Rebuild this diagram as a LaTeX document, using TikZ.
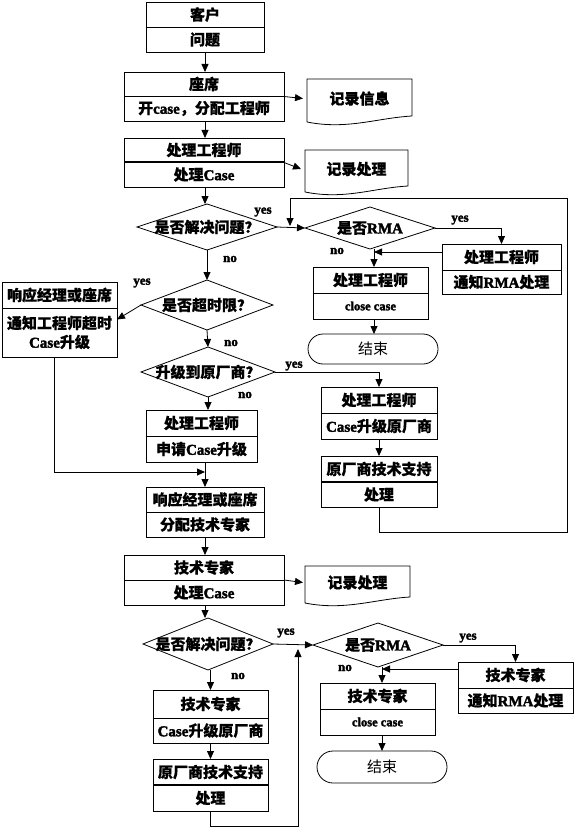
\documentclass[tikz,border=0pt]{standalone}
\usepackage{fontspec}
\setmainfont{Noto Sans CJK SC}[BoldFeatures={FakeBold=0.6}]
\newfontfamily\en{Liberation Serif}[BoldFeatures={FakeBold=2.2}]
\usetikzlibrary{arrows.meta,shapes.geometric,shapes.misc}
\newcommand\E[1]{{\en\bfseries #1}}
% #1 divider style, #2 name, #3 xl, #4 xr, #5 yt, #6 yb, #7 ydiv, #8 top text, #9 bottom text
\newcommand\tbox[9][ln]{%
  \node[boxst, minimum width={#4-#3}, minimum height={#6-#5}] (#2) at ({(#3+#4)/2},{(#5+#6)/2}) {};
  \draw[#1] (#3,#7) -- (#4,#7);
  \node[txt] (#2-t) at ({(#3+#4)/2},{(#5+#7)/2}) {#8};
  \node[txt] (#2-b) at ({(#3+#4)/2},{(#7+#6)/2}) {#9};
}
% #1 name, #2 xl, #3 xr, #4 yt, #5 yb, #6 text
\newcommand\docbox[6]{%
  \node[docst, minimum width={#3-#2}, minimum height={#5-#4}] (#1) at ({(#2+#3)/2},{(#4+#5)/2-2}) {#6};
  \draw[ln] (#2,#5) -- (#2,#4) -- (#3,#4) -- (#3,#5-6) .. controls (#3-35,#5-4) and (#2+40,#5+8) .. (#2,#5);
}
\begin{document}
\begin{tikzpicture}[x=1pt,y=-1pt,
  ln/.style={line width=0.8pt},
  thk/.style={line width=1.8pt},
  boxst/.style={draw, line width=0.8pt, inner sep=0pt, outer sep=0pt},
  docst/.style={inner sep=0pt, outer sep=0pt, font=\bfseries\fontsize{15}{17}\selectfont},
  txt/.style={inner sep=0pt, align=center, font=\bfseries\fontsize{15}{19}\selectfont},
  dia/.style={draw, diamond, line width=0.8pt, inner sep=0pt, outer sep=0pt},
  endst/.style={draw, rounded rectangle, line width=0.8pt, inner sep=0pt, outer sep=0pt, font=\fontsize{15}{17}\selectfont},
  lab/.style={inner sep=0pt, font=\en\bfseries\fontsize{13}{13}\selectfont},
  sm/.style={font=\en\bfseries\fontsize{12.5}{12.5}\selectfont},
  arr/.style={line width=0.8pt, -{Triangle[length=8pt,width=7pt]}}]
\useasboundingbox (0,0) rectangle (576,829);

% ---------- top part ----------
\tbox{b1}{146}{264}{2}{52}{27}{客户}{问题}
\tbox{b2}{124}{284}{72}{121}{96}{座席}{开\E{case}，分配工程师}
\tbox[thk]{b3}{124}{284}{138}{187}{162}{处理工程师}{处理\E{Case}}
\docbox{info}{307}{412}{79}{122}{记录信息}
\docbox{rec1}{305}{408}{150}{192}{记录处理}

\node[dia, minimum width=140, minimum height=46] (d1) at (207,227) {};
\node[txt] (d1t) at (d1) {是否解决问题？};
\node[dia, minimum width=130, minimum height=42] (d2) at (370,228) {};
\node[txt] (d2t) at (d2) {是否\E{RMA}};
\tbox{rma1}{442}{561}{244}{294}{270}{处理工程师}{通知\E{RMA}处理}
\tbox{close1}{313}{428}{267}{319}{293}{处理工程师}{\textbf{\en\fontsize{12.5}{12.5}\selectfont close case}}
\node[endst, minimum width=130, minimum height=30] (end1) at (373,349) {结束};

\node[dia, minimum width=132, minimum height=50] (d3) at (207,305) {};
\node[txt] (d3t) at (d3) {是否超时限？};
\tbox{left}{2}{117}{282}{357}{308}{响应经理或座席}{通知工程师超时\\\E{Case}升级}
\node[dia, minimum width=134, minimum height=50] (d4) at (208,372) {};
\node[txt] (d4t) at (d4) {升级到原厂商？};
\tbox{apply}{146}{257}{410}{462}{436}{处理工程师}{申请\E{Case}升级}
\tbox{v1}{321}{437}{387}{439}{413}{处理工程师}{\E{Case}升级原厂商}
\tbox[thk]{v2}{321}{437}{456}{507}{482}{原厂商技术支持}{处理}
\tbox{mgr}{146}{264}{487}{537}{512}{响应经理或座席}{分配技术专家}
\tbox{exp}{124}{284}{555}{605}{580}{技术专家}{处理\E{Case}}
\docbox{rec2}{305}{410}{566}{603}{记录处理}

% ---------- bottom part ----------
\node[dia, minimum width=130, minimum height=52] (d5) at (208,644) {};
\node[txt] (d5t) at (d5) {是否解决问题？};
\node[dia, minimum width=130, minimum height=44] (d6) at (378,645) {};
\node[txt] (d6t) at (d6) {是否\E{RMA}};
\tbox{rma2}{458}{573}{662}{713}{688}{技术专家}{通知\E{RMA}处理}
\tbox{close2}{320}{435}{683}{735}{709}{技术专家}{\textbf{\en\fontsize{12.5}{12.5}\selectfont close case}}
\node[endst, minimum width=130, minimum height=32] (end2) at (382,767) {结束};
\tbox{exp2}{153}{268}{690}{743}{718}{技术专家}{\E{Case}升级原厂商}
\tbox[thk]{v3}{153}{268}{759}{811}{785}{原厂商技术支持}{处理}

% ---------- labels ----------
\node[lab] (y1) at (263,212) {yes};
\node[lab] (n1) at (230,259) {no};
\node[lab] (y2) at (460,220) {yes};
\node[lab] (n2) at (337,251) {no};
\node[lab] (y3) at (142,283) {yes};
\node[lab] (n3) at (231,343) {no};
\node[lab] (y4) at (294,366) {yes};
\node[lab] (n4) at (245,395) {no};
\node[lab] (y5) at (286,633) {yes};
\node[lab] (n5) at (238,676) {no};
\node[lab] (y6) at (468,638) {yes};
\node[lab] (n6) at (345,668) {no};

% ---------- free ends ----------
\coordinate (lpA) at (567,532);
\coordinate (lpB) at (567,198);
\coordinate (lpC) at (290,198);
\coordinate (lpD) at (290,226);
\coordinate (m1) at (374,252);
\coordinate (m2) at (205,472);
\coordinate (m3) at (382,669);
\coordinate (lpE) at (298,826);
\coordinate (lpF) at (298,649);

% ---------- connectors ----------
\draw[arr] (b1.south) -- (b1.south |- b2.north);
\draw[arr] (b2.east) -- ([xshift=-4pt]info.west);
\draw[arr] (b2.south -| b1.south) -- (b1.south |- b3.north);
\draw[arr] (b3.east) -- ([xshift=-4pt]rec1.west);
\draw[arr] (b3.south -| b1.south) -- (b1.south |- d1.north);
\draw[arr] (d1.east) -- (d2.west);
\draw[arr] (v2.south) |- (lpA) -- (lpB) -- (lpC) -- (lpD);
\draw[arr] (d2.east) -| (rma1.north);
\draw[arr] (rma1.west |- m1) -- (m1);
\draw[arr] (d2.south -| m1) -- (m1 |- close1.north);
\draw[arr] (close1.south -| m1) -- (m1 |- end1.north);
\draw[arr] (d1.south) -- (d3.north);
\draw[arr] (d3.west) -- (left.east);
\draw[arr] (d3.south) -- (d4.north);
\draw[arr] (d4.east) -| (v1.north);
\draw[arr] (d4.south) -- (d4.south |- apply.north);
\draw[arr] (left.south -| 54,0) |- (m2);
\draw[arr] (apply.south -| m2) -- (m2 |- mgr.north);
\draw[arr] (v1.south) -- (v2.north);
\draw[arr] (mgr.south) -- (mgr.south |- exp.north);
\draw[arr] (exp.east) -- ([xshift=-2pt]rec2.west);
\draw[arr] (exp.south -| mgr.south) -- (mgr.south |- d5.north);
\draw[arr] (d5.east) -- (d6.west);
\draw[arr] (d6.east) -| (rma2.north);
\draw[arr] (rma2.west |- m3) -- (m3);
\draw[arr] (d6.south -| m3) -- (m3 |- close2.north);
\draw[arr] (close2.south -| m3) -- (m3 |- end2.north);
\draw[arr] (d5.south -| exp2.north) -- (exp2.north);
\draw[arr] (exp2.south) -- (v3.north);
\draw[arr] (v3.south) |- (lpE) -- (lpF);
\end{tikzpicture}
\end{document}
